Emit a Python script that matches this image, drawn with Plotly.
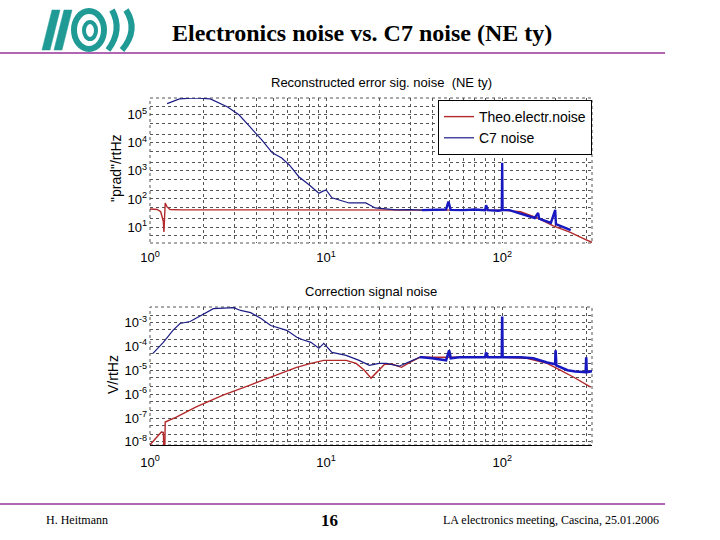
import plotly.graph_objects as go

# ---------------- data ----------------
# Upper panel: Reconstructed error signal noise
top_red_f = [1.0, 1.1, 1.15, 1.19, 1.2, 1.21, 1.22, 1.25, 1.3, 1.5, 2, 5, 10, 20, 50, 80,
             100, 127, 158, 195, 242, 300, 325]
top_red_v = [44, 42, 35, 16, 6.6, 20, 72, 52, 42, 41, 41, 41, 41, 41, 41, 41,
             40, 35, 21, 11, 6.6, 3.5, 2.8]

top_blue_f = [1.25, 1.47, 1.8, 2.2, 2.76, 3.2, 3.7, 4.3, 4.95, 5.6, 6.2, 7.0, 8.0, 9.1, 9.6,
              10, 10.8, 13.5, 16.8, 19, 25, 30, 35, 40, 48, 49.5, 51, 60, 70, 80, 81, 83,
              95, 99.5, 100, 100.5, 110, 123, 153, 160, 162, 189, 200, 202, 220, 245]
top_blue_v = [2.5e5, 3.7e5, 4.0e5, 3.7e5, 1.9e5, 1.0e5, 3.7e4, 1.3e4, 4.4e3, 2.9e3, 1.6e3,
              6.2e2, 3.2e2, 1.6e2, 1.9e2, 2.1e2, 1.1e2, 72, 72, 48, 41, 42, 40, 40, 42, 80,
              41, 40, 42, 40, 60, 40, 38, 40, 1.95e3, 40, 40, 32, 21, 32, 20, 14, 41, 12.6,
              10, 7.8]

# Lower panel: Correction signal noise
bot_red_f = [1.0, 1.08, 1.16, 1.19, 1.2, 1.21, 1.22, 1.41, 1.83, 2.6, 3.7, 5.25, 6.8, 8.2,
             9.7, 10.4, 13, 14.8, 16.5, 18, 19.5, 21.5, 23.8, 26.8, 29.7, 34, 50, 100, 138,
             180, 215, 255, 318]
bot_red_v = [7.5e-9, 1.48e-8, 2.6e-8, 2.5e-8, 1e-9, 1e-9, 6.8e-8, 1.1e-7, 2.9e-7, 9.1e-7,
             2.4e-6, 6.2e-6, 1.33e-5, 1.95e-5, 2.6e-5, 2.6e-5, 2.6e-5, 1.95e-5, 1.0e-5,
             4.7e-6, 8.3e-6, 1.78e-5, 1.78e-5, 1.33e-5, 2.1e-5, 3.5e-5, 3.5e-5, 3.5e-5,
             3.2e-5, 1.95e-5, 1.0e-5, 5.1e-6, 1.95e-6]

bot_blue_f = [1.04, 1.19, 1.35, 1.48, 1.69, 1.83, 2.09, 2.29, 2.98, 3.27, 3.73, 4.25, 4.85,
              5.25, 5.98, 6.82, 7.3, 8.2, 9.1, 9.7, 10.8, 13, 15.4, 17.6, 20, 22, 26, 31,
              34, 35, 40, 48, 50, 51, 57, 70, 80, 81, 83, 99.5, 100, 100.5, 127, 150, 180,
              200, 201, 203, 235, 260, 298, 300, 302, 325]
bot_blue_v = [5.1e-5, 1.48e-4, 4.7e-4, 9.1e-4, 1.1e-3, 1.5e-3, 2.6e-3, 3.8e-3, 4.2e-3,
              3.2e-3, 2.6e-3, 1.5e-3, 7.5e-4, 6.2e-4, 4.7e-4, 2.4e-4, 1.95e-4, 1.48e-4,
              8.3e-5, 1.33e-4, 5.6e-5, 4.2e-5, 2.6e-5, 1.6e-5, 1.95e-5, 1.95e-5, 1.48e-5,
              2.6e-5, 3.5e-5, 3.5e-5, 3.2e-5, 2.6e-5, 6.8e-5, 3.2e-5, 3.5e-5, 3.5e-5,
              3.5e-5, 5.6e-5, 3.5e-5, 3.5e-5, 1.8e-3, 3.5e-5, 3.5e-5, 3.2e-5, 2.1e-5,
              1.8e-5, 6.8e-5, 1.6e-5, 1.0e-5, 8.9e-6, 8.3e-6, 3.5e-5, 8.3e-6, 9.1e-6]

x_decades = [1, 10, 100]
x_tick_labels = ["10<sup>0</sup>", "10<sup>1</sup>", "10<sup>2</sup>"]
top_y_decades = [1e1, 1e2, 1e3, 1e4, 1e5]
top_y_tick_labels = ["10<sup>1</sup>", "10<sup>2</sup>", "10<sup>3</sup>",
                     "10<sup>4</sup>", "10<sup>5</sup>"]
bot_y_decades = [1e-8, 1e-7, 1e-6, 1e-5, 1e-4, 1e-3]
bot_y_tick_labels = ["10<sup>-8</sup>", "10<sup>-7</sup>", "10<sup>-6</sup>",
                     "10<sup>-5</sup>", "10<sup>-4</sup>", "10<sup>-3</sup>"]

legend_names = ["Theo.electr.noise", "C7 noise"]

# ---------------- styling helpers ----------------
W, H = 720, 540
def X(px): return px / W
def Y(py): return 1 - py / H

RED = "#b3282a"
BLUE_THIN = "#1c1c86"
BLUE_THICK = "#1818c0"
GRID = "#555555"
TEAL = "#1f9a95"
PURPLE = "#993399"

def grid_vals(lo_exp, hi_exp, mults):
    return [m * 10.0 ** d for d in range(lo_exp, hi_exp + 1) for m in mults]

def tick_text(vals, decades, labels):
    out = []
    for v in vals:
        lab = ""
        for d, l in zip(decades, labels):
            if abs(v - d) / d < 1e-9:
                lab = l
        out.append(lab)
    return out

def split(f, v, fcut):
    lo = [(a, b) for a, b in zip(f, v) if a <= fcut]
    hi = [(a, b) for a, b in zip(f, v) if a >= fcut]
    return ([a for a, _ in lo], [b for _, b in lo], [a for a, _ in hi], [b for _, b in hi])

fig = go.Figure()

# upper panel traces
tb_lf, tb_lv, tb_hf, tb_hv = split(top_blue_f, top_blue_v, 35)
fig.add_trace(go.Scatter(x=top_red_f, y=top_red_v, mode="lines", name=legend_names[0],
                         line=dict(color=RED, width=1.4), xaxis="x", yaxis="y"))
fig.add_trace(go.Scatter(x=tb_lf, y=tb_lv, mode="lines", name=legend_names[1],
                         line=dict(color=BLUE_THIN, width=1.2), xaxis="x", yaxis="y"))
fig.add_trace(go.Scatter(x=tb_hf, y=tb_hv, mode="lines", showlegend=False,
                         line=dict(color=BLUE_THICK, width=2.4), xaxis="x", yaxis="y"))

# lower panel traces
bb_lf, bb_lv, bb_hf, bb_hv = split(bot_blue_f, bot_blue_v, 34)
fig.add_trace(go.Scatter(x=bot_red_f, y=bot_red_v, mode="lines", showlegend=False,
                         line=dict(color=RED, width=1.4), xaxis="x2", yaxis="y2"))
fig.add_trace(go.Scatter(x=bb_lf, y=bb_lv, mode="lines", showlegend=False,
                         line=dict(color=BLUE_THIN, width=1.2), xaxis="x2", yaxis="y2"))
fig.add_trace(go.Scatter(x=bb_hf, y=bb_hv, mode="lines", showlegend=False,
                         line=dict(color=BLUE_THICK, width=2.6), xaxis="x2", yaxis="y2"))

tick_font = dict(family="Liberation Sans, Arial, sans-serif", size=13, color="#000")
gx = grid_vals(0, 2, range(1, 10))
common_x = dict(type="log", range=[0, 2.51], tickvals=gx,
                ticktext=tick_text(gx, x_decades, x_tick_labels),
                showgrid=True, gridcolor=GRID, griddash="dot", gridwidth=1,
                zeroline=False, ticks="", tickfont=tick_font, ticklabelstandoff=5,
                automargin=False, domain=[X(150), X(592)])
gy1 = grid_vals(0, 5, [1, 2, 5])
gy2 = grid_vals(-9, -3, [1, 2, 5])
common_y = dict(type="log", showgrid=True, gridcolor=GRID, griddash="dot", gridwidth=1,
                zeroline=False, ticks="", tickfont=tick_font, ticklabelstandoff=2,
                automargin=False)

fig.update_layout(
    width=W, height=H, margin=dict(l=0, r=0, t=0, b=0),
    paper_bgcolor="white", plot_bgcolor="white",
    xaxis=dict(common_x, anchor="y", showline=False),
    yaxis=dict(common_y, anchor="x", range=[0.43, 5.6], domain=[Y(243), Y(98)],
               tickvals=gy1, ticktext=tick_text(gy1, top_y_decades, top_y_tick_labels)),
    xaxis2=dict(common_x, anchor="y2", showline=True, linecolor="#000", linewidth=1.2),
    yaxis2=dict(common_y, anchor="x2", range=[-8.13, -2.35], domain=[Y(445), Y(307)],
                tickvals=gy2, ticktext=tick_text(gy2, bot_y_decades, bot_y_tick_labels)),
    legend=dict(x=X(592), xanchor="right", y=Y(100), yanchor="top",
                bgcolor="white", bordercolor="#000", borderwidth=1,
                font=dict(family="Liberation Sans, Arial, sans-serif", size=14, color="#000"),
                tracegroupgap=0, itemwidth=30),
    showlegend=True,
)

shapes = []
# dotted frames of the two axes
for xr, yr in (("x domain", "y domain"), ("x2 domain", "y2 domain")):
    shapes.append(dict(type="rect", xref=xr, yref=yr, x0=0, x1=1, y0=0, y1=1,
                       line=dict(color=GRID, width=1, dash="dot"), layer="below"))
# purple header / footer rules
shapes.append(dict(type="line", xref="paper", yref="paper", x0=0, x1=X(665),
                   y0=Y(53), y1=Y(53), line=dict(color=PURPLE, width=1.5)))
shapes.append(dict(type="line", xref="paper", yref="paper", x0=0, x1=X(665),
                   y0=Y(504), y1=Y(504), line=dict(color=PURPLE, width=1.5)))

# logo (approximate EGO mark)
def poly(pts):
    return "M " + " L ".join(f"{X(a):.5f},{Y(b):.5f}" for a, b in pts) + " Z"
logo_fill = dict(type="path", xref="paper", yref="paper", fillcolor=TEAL,
                 line=dict(color=TEAL, width=0.5))
shapes.append(dict(logo_fill, path=poly([(42, 50), (50, 50), (60, 10), (52, 10)])))
shapes.append(dict(logo_fill, path=poly([(54, 50), (62, 50), (72, 10), (64, 10)])))
shapes.append(dict(type="circle", xref="paper", yref="paper", x0=X(74), x1=X(104),
                   y0=Y(49), y1=Y(11), line=dict(color=TEAL, width=6)))
shapes.append(dict(type="circle", xref="paper", yref="paper", x0=X(84), x1=X(96),
                   y0=Y(39), y1=Y(22), line=dict(color=TEAL, width=4)))
def arc(x0, y0, cx, cy, x1, y1):
    return f"M {X(x0):.5f},{Y(y0):.5f} Q {X(cx):.5f},{Y(cy):.5f} {X(x1):.5f},{Y(y1):.5f}"
shapes.append(dict(type="path", xref="paper", yref="paper",
                   path=arc(112, 10, 123, 30, 108, 50), line=dict(color=TEAL, width=6)))
shapes.append(dict(type="path", xref="paper", yref="paper",
                   path=arc(126, 10, 139, 30, 122, 50), line=dict(color=TEAL, width=6)))
fig.update_layout(shapes=shapes)

sans = "Liberation Sans, Arial, sans-serif"
serif = "Liberation Serif, Times New Roman, serif"
ann = [
    dict(text="<b>Electronics noise vs. C7 noise (NE ty)</b>", x=X(362), y=Y(33),
         font=dict(family=serif, size=24, color="#000")),
    dict(text="Reconstructed error sig. noise  (NE ty)", x=X(381), y=Y(83),
         font=dict(family=sans, size=13, color="#000")),
    dict(text="Correction signal noise", x=X(371), y=Y(291),
         font=dict(family=sans, size=13, color="#000")),
    dict(text="\"prad\"/rtHz", x=X(116), y=Y(168), textangle=-90,
         font=dict(family=sans, size=14, color="#000")),
    dict(text="V/rtHz", x=X(113), y=Y(375), textangle=-90,
         font=dict(family=sans, size=14, color="#000")),
    dict(text="H. Heitmann", x=X(44), y=Y(520), xanchor="left",
         font=dict(family=serif, size=12, color="#000")),
    dict(text="<b>16</b>", x=X(329), y=Y(520),
         font=dict(family=serif, size=17, color="#000")),
    dict(text="LA electronics meeting, Cascina, 25.01.2006", x=X(661), y=Y(520),
         xanchor="right", font=dict(family=serif, size=12, color="#000")),
]
for a in ann:
    a.setdefault("xanchor", "center")
    a.update(xref="paper", yref="paper", yanchor="middle", showarrow=False)
fig.update_layout(annotations=ann)

# the page's default 8px body margin would shift the slide; remove it
fig.write_html("out.html", config={"displayModeBar": False},
               post_script="document.body.style.margin='0px';")
